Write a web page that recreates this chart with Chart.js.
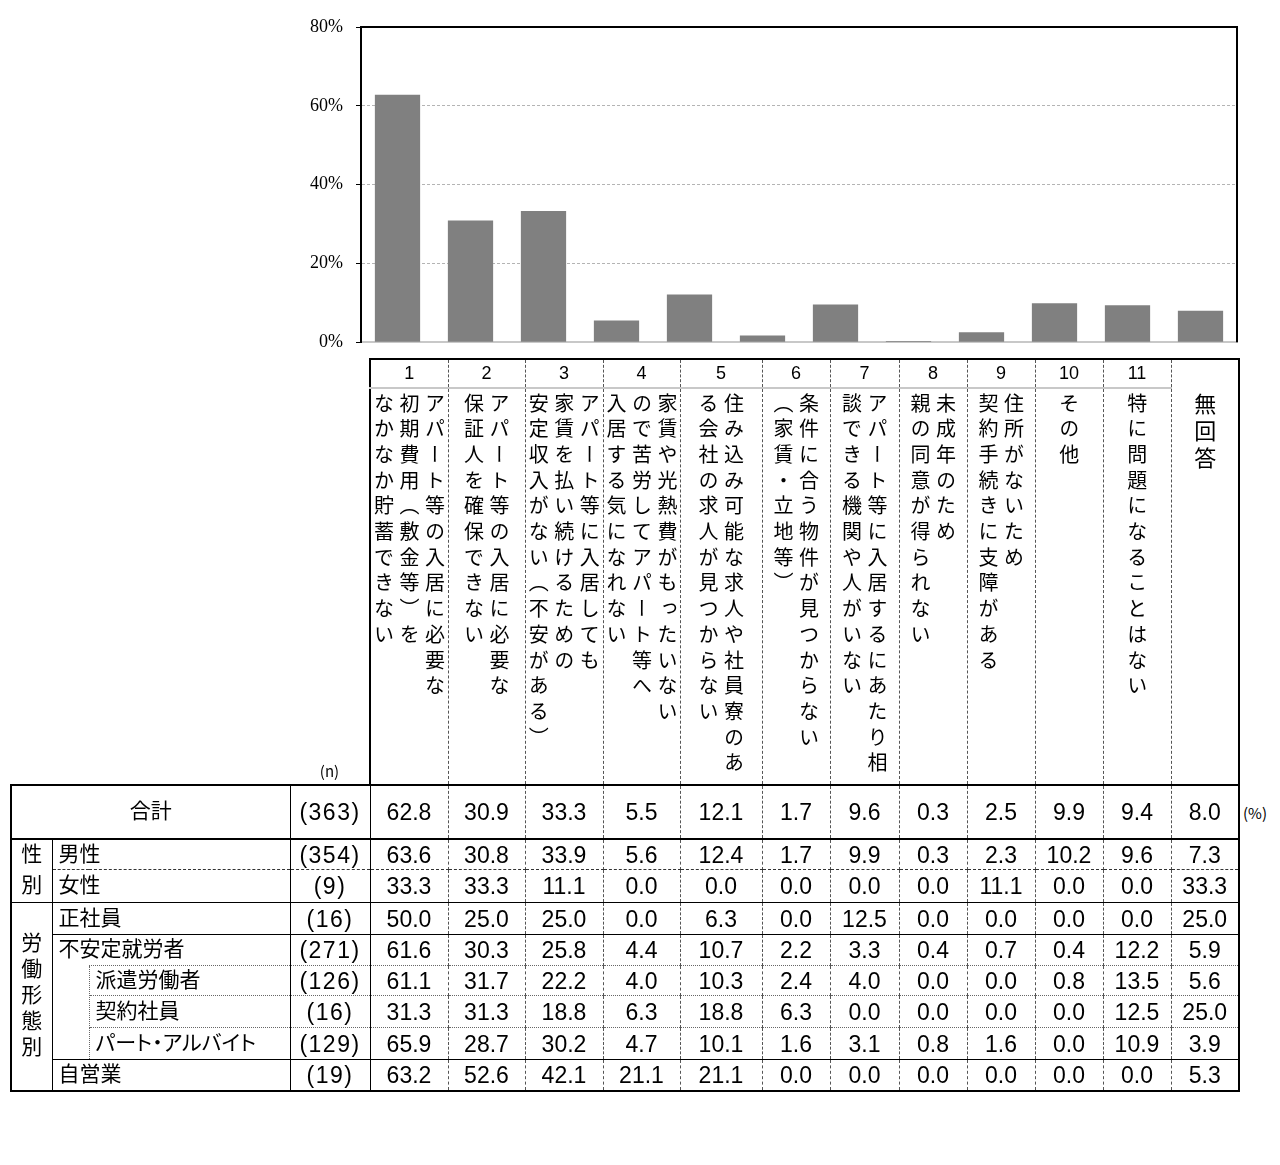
<!DOCTYPE html>
<html lang="ja">
<head>
<meta charset="utf-8">
<title>住居確保の問題</title>
<script src="https://cdn.jsdelivr.net/npm/chart.js@4.4.1/dist/chart.umd.min.js"></script>
<style>
  body { margin: 0; background: #fff; width: 1280px; height: 1165px; position: relative;
         font-family: "Noto Sans CJK JP", sans-serif; color: #000; }
  #chartBox { position: absolute; left: 0; top: 0; width: 1250px; height: 366px; }
  #tbl { position: absolute; left: 10px; top: 358px; border-collapse: collapse; table-layout: fixed; width: 1228px; }
  #tbl td { padding: 0; border: 0; overflow: hidden; white-space: nowrap; }
  .hn { text-align: center; font: 18px "Liberation Sans", sans-serif; }
  .ht, .hlast { vertical-align: top; text-align: center; }
  .vt { display: inline-block; writing-mode: vertical-rl; text-align: left; font-size: 20px;
        line-height: 25.5px; letter-spacing: 5.7px; padding-top: 4px; }
  .vt-big { font-size: 22px; letter-spacing: 5px; line-height: 27px; padding-top: 33px; }
  .ncap { text-align: center; vertical-align: bottom; font: 15px "Noto Sans CJK JP", sans-serif; padding-bottom: 3px !important; }
  .lab { font-size: 21px; line-height: 24px; padding-left: 6px !important; vertical-align: middle; font-feature-settings: "palt"; }
  .lab span, .grp span { position: relative; top: -3px; }
  .center { text-align: center; padding-left: 0 !important; }
  .grp { font-size: 21px; text-align: center; vertical-align: middle; }
  .n { text-align: center; font: 23px "Liberation Sans", sans-serif; line-height: 24px; letter-spacing: 1.5px; vertical-align: middle; }
  .v { text-align: center; font: 23px "Liberation Sans", sans-serif; line-height: 24px; vertical-align: middle; }
  #pct { position: absolute; left: 1243px; top: 802px; font-size: 15px; }
</style>
</head>
<body>
<div id="chartBox"><canvas id="barChart" width="1250" height="366"></canvas></div>
<table id="tbl"></table>
<div id="pct">(%)</div>

<script>
// =====================
// DATA
// =====================
const categories = ["1", "2", "3", "4", "5", "6", "7", "8", "9", "10", "11", "無回答"];
const yTicks = ["0%", "20%", "40%", "60%", "80%"];

const headerLines = [
  ["アパート等の入居に必要な", "初期費用（敷金等）を", "なかなか貯蓄できない"],
  ["アパート等の入居に必要な", "保証人を確保できない"],
  ["アパート等に入居しても", "家賃を払い続けるための", "安定収入がない（不安がある）"],
  ["家賃や光熱費がもったいない", "ので苦労してアパート等へ", "入居する気になれない"],
  ["住み込み可能な求人や社員寮のあ", "る会社の求人が見つからない"],
  ["条件に合う物件が見つからない", "（家賃・立地等）"],
  ["アパート等に入居するにあたり相", "談できる機関や人がいない"],
  ["未成年のため", "親の同意が得られない"],
  ["住所がないため", "契約手続きに支障がある"],
  ["その他"],
  ["特に問題になることはない"],
  ["無回答"]
];

const rowLabels = ["合計", "男性", "女性", "正社員", "不安定就労者", "派遣労働者", "契約社員", "パート・アルバイト", "自営業"];
const rowN = [363, 354, 9, 16, 271, 126, 16, 129, 19];

const total    = [62.8, 30.9, 33.3, 5.5, 12.1, 1.7, 9.6, 0.3, 2.5, 9.9, 9.4, 8.0];
const male     = [63.6, 30.8, 33.9, 5.6, 12.4, 1.7, 9.9, 0.3, 2.3, 10.2, 9.6, 7.3];
const female   = [33.3, 33.3, 11.1, 0.0, 0.0, 0.0, 0.0, 0.0, 11.1, 0.0, 0.0, 33.3];
const seishain = [50.0, 25.0, 25.0, 0.0, 6.3, 0.0, 12.5, 0.0, 0.0, 0.0, 0.0, 25.0];
const fuantei  = [61.6, 30.3, 25.8, 4.4, 10.7, 2.2, 3.3, 0.4, 0.7, 0.4, 12.2, 5.9];
const haken    = [61.1, 31.7, 22.2, 4.0, 10.3, 2.4, 4.0, 0.0, 0.0, 0.8, 13.5, 5.6];
const keiyaku  = [31.3, 31.3, 18.8, 6.3, 18.8, 6.3, 0.0, 0.0, 0.0, 0.0, 12.5, 25.0];
const part     = [65.9, 28.7, 30.2, 4.7, 10.1, 1.6, 3.1, 0.8, 1.6, 0.0, 10.9, 3.9];
const jieigyo  = [63.2, 52.6, 42.1, 21.1, 21.1, 0.0, 0.0, 0.0, 0.0, 0.0, 0.0, 5.3];

// =====================
// GRAFIK
// =====================
const frameLines = {
  id: "frameLines",
  afterDraw(chart) {
    const { ctx, chartArea: a } = chart;
    ctx.save();
    ctx.strokeStyle = "#000";
    ctx.lineWidth = 2;
    ctx.beginPath();
    ctx.moveTo(a.left, a.top);
    ctx.lineTo(a.right, a.top);
    ctx.lineTo(a.right, a.bottom);
    ctx.stroke();
    ctx.restore();
  }
};

new Chart(document.getElementById("barChart"), {
  type: "bar",
  data: {
    labels: categories,
    datasets: [{
      data: total,
      backgroundColor: "#808080",
      barPercentage: 0.62,
      categoryPercentage: 1
    }]
  },
  options: {
    responsive: false,
    animation: false,
    layout: { padding: { top: 27, right: 13, bottom: 0, left: 0 } },
    plugins: { legend: { display: false }, tooltip: { enabled: false } },
    scales: {
      x: {
        grid: { display: true, drawOnChartArea: false, drawTicks: false },
        ticks: { display: false },
        border: { color: "#c8c8c8", width: 2 },
        afterFit(s) { s.height = 0; }
      },
      y: {
        min: 0,
        max: 80,
        ticks: {
          stepSize: 20,
          padding: 13,
          color: "#000",
          font: { family: "Liberation Serif", size: 18 },
          callback: (v) => yTicks[v / 20]
        },
        grid: { color: "#b4b4b4", tickColor: "#000", tickLength: 5 },
        border: { color: "#000", width: 2, dash: [3, 2] },
        afterFit(s) { s.width = 361; }
      }
    }
  },
  plugins: [frameLines]
});

// =====================
// TABEL
// =====================
const colW = [41, 37, 201, 80, 78, 77, 78, 77, 82, 68, 69, 68, 68, 68, 68, 68];
const DASH_V = "1px dashed #555";
const OUTER = "2px solid #000";
const SOLID = "1px solid #000";
const DASHED = "1px dashed #333";
const DOTTED = "1px dotted #666";

function valueCells(vals, bottom, top) {
  return vals.map((v, i) => {
    let st = `border-left:${i === 0 ? SOLID : DASH_V};border-right:${i === vals.length - 1 ? OUTER : DASH_V};border-bottom:${bottom};`;
    if (top) st += `border-top:${top};`;
    return `<td class="v" style="${st}">${v.toFixed(1)}</td>`;
  }).join("");
}
function nCell(n, bottom, top) {
  let st = `border-left:${SOLID};border-right:${SOLID};border-bottom:${bottom};`;
  if (top) st += `border-top:${top};`;
  return `<td class="n" style="${st}">(${n})</td>`;
}
function labCell(text, bottom, span) {
  return `<td class="lab"${span ? ` colspan="${span}"` : ""} style="border-right:${SOLID};border-bottom:${bottom};"><span>${text}</span></td>`;
}

let html = "<colgroup>" + colW.map(w => `<col style="width:${w}px">`).join("") + "</colgroup>";

// header row 1: numbers
html += '<tr style="height:29px"><td colspan="4"></td>';
for (let i = 0; i < 11; i++) {
  const st = `border-top:${OUTER};border-left:${i === 0 ? OUTER : DASH_V};border-right:${DASH_V};border-bottom:2px solid #c8c8c8;`;
  html += `<td class="hn" style="${st}">${categories[i]}</td>`;
}
html += `<td class="hlast" rowspan="2" style="border-top:${OUTER};border-right:${OUTER};border-left:${DASH_V};">` +
        `<div class="vt vt-big">${headerLines[11].join("<br>")}</div></td></tr>`;

// header row 2: vertical texts
html += '<tr style="height:397px"><td colspan="3"></td><td class="ncap">(n)</td>';
for (let i = 0; i < 11; i++) {
  const st = `border-left:${i === 0 ? OUTER : DASH_V};border-right:${DASH_V};`;
  html += `<td class="ht" style="${st}"><div class="vt">${headerLines[i].join("<br>")}</div></td>`;
}
html += "</tr>";

// 合計
html += `<tr style="height:54px"><td colspan="3" class="lab center" style="border-left:${OUTER};border-top:${OUTER};border-bottom:${OUTER};border-right:${SOLID};"><span>${rowLabels[0]}</span></td>` +
        nCell(rowN[0], OUTER, OUTER) + valueCells(total, OUTER, OUTER) + "</tr>";
// 男性
html += `<tr style="height:30px"><td rowspan="2" class="grp" style="border-left:${OUTER};border-right:${SOLID};border-bottom:${SOLID};line-height:31px;"><span>性<br>別</span></td>` +
        labCell(rowLabels[1], DASHED, 2) + nCell(rowN[1], DASHED) + valueCells(male, DASHED) + "</tr>";
// 女性
html += `<tr style="height:32px">` + labCell(rowLabels[2], SOLID, 2) + nCell(rowN[2], SOLID) + valueCells(female, SOLID) + "</tr>";
// 正社員
html += `<tr style="height:32px"><td rowspan="6" class="grp" style="border-left:${OUTER};border-right:${SOLID};border-bottom:${OUTER};line-height:26px;"><span>労<br>働<br>形<br>態<br>別</span></td>` +
        labCell(rowLabels[3], SOLID, 2) + nCell(rowN[3], SOLID) + valueCells(seishain, SOLID) + "</tr>";
// 不安定就労者
html += `<tr style="height:31px">` + labCell(rowLabels[4], DOTTED, 2) + nCell(rowN[4], DOTTED) + valueCells(fuantei, DOTTED) + "</tr>";
// 派遣労働者
html += `<tr style="height:30px"><td rowspan="3" style="border-top:hidden;border-right:${DOTTED};border-bottom:${SOLID};"></td>` +
        labCell(rowLabels[5], DOTTED) + nCell(rowN[5], DOTTED) + valueCells(haken, DOTTED) + "</tr>";
// 契約社員
html += `<tr style="height:32px">` + labCell(rowLabels[6], DOTTED) + nCell(rowN[6], DOTTED) + valueCells(keiyaku, DOTTED) + "</tr>";
// パート・アルバイト
html += `<tr style="height:32px">` + labCell(rowLabels[7], SOLID) + nCell(rowN[7], SOLID) + valueCells(part, SOLID) + "</tr>";
// 自営業
html += `<tr style="height:31px">` + labCell(rowLabels[8], OUTER, 2) + nCell(rowN[8], OUTER) + valueCells(jieigyo, OUTER) + "</tr>";

document.getElementById("tbl").innerHTML = html;
</script>
</body>
</html>
